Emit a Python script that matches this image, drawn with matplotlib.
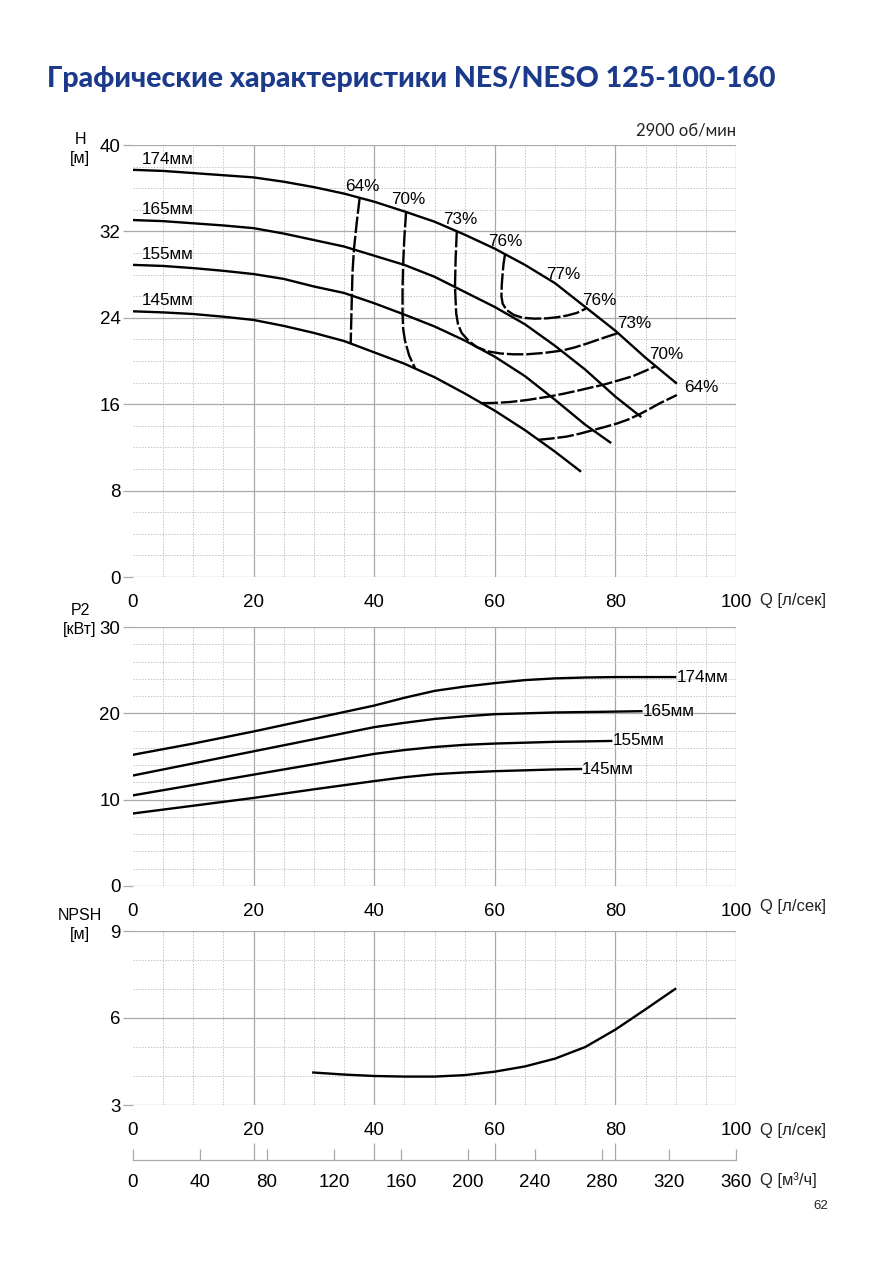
import matplotlib
matplotlib.use('Agg')
import matplotlib.pyplot as plt
import numpy as np

plt.rcParams['font.family'] = ['Liberation Sans', 'DejaVu Sans']

# ---------------- DATA ----------------
diam_labels = ['174мм', '165мм', '155мм', '145мм']

# Head curves H(Q), Q in l/s, H in m
q_174 = [0, 5, 10, 15, 20, 25, 30, 35, 40, 45, 50, 55, 60, 65, 70, 75, 80, 85, 90.2]
h_174 = [37.7, 37.6, 37.4, 37.2, 37.0, 36.6, 36.1, 35.5, 34.75, 33.85, 32.9, 31.7, 30.4, 28.9, 27.2, 25.0, 22.8, 20.3, 17.9]
q_165 = [0, 5, 10, 15, 20, 25, 30, 35, 40, 45, 50, 55, 60, 65, 70, 75, 80, 84.3]
h_165 = [33.05, 32.95, 32.75, 32.55, 32.3, 31.8, 31.2, 30.6, 29.75, 28.9, 27.8, 26.4, 25.0, 23.4, 21.4, 19.2, 16.7, 14.8]
q_155 = [0, 5, 10, 15, 20, 25, 30, 35, 40, 45, 50, 55, 60, 65, 70, 75, 79.3]
h_155 = [28.9, 28.8, 28.6, 28.35, 28.05, 27.6, 26.9, 26.3, 25.35, 24.3, 23.2, 21.9, 20.4, 18.6, 16.4, 14.1, 12.4]
q_145 = [0, 5, 10, 15, 20, 25, 30, 35, 40, 45, 50, 55, 60, 65, 70, 74.3]
h_145 = [24.6, 24.5, 24.35, 24.1, 23.8, 23.25, 22.6, 21.85, 20.8, 19.75, 18.5, 17.0, 15.4, 13.6, 11.6, 9.75]

# Efficiency iso-lines (Q, H)
eff64_left_q = [37.6, 37.1, 36.65, 36.4, 36.3, 36.2, 36.1]
eff64_left_h = [35.15, 32.8, 30.4, 28.2, 26.1, 23.8, 21.6]
eff70_left_q = [45.3, 45.0, 44.8, 44.7, 44.7, 44.8, 45.1, 45.8, 46.8]
eff70_left_h = [33.9, 31.4, 29.0, 26.7, 24.4, 23.0, 21.9, 20.5, 19.3]
eff73_q = [53.7, 53.5, 53.4, 53.5, 53.6, 53.9, 54.5, 55.6, 57.0, 58.8, 60.9, 63.0, 65.3, 68.2, 71.1, 73.2, 75.2, 77.8, 80.5]
eff73_h = [32.05, 29.4, 26.9, 25.6, 24.4, 23.4, 22.6, 21.9, 21.3, 20.9, 20.7, 20.62, 20.62, 20.75, 20.96, 21.25, 21.6, 22.1, 22.6]
eff76_q = [61.7, 61.45, 61.3, 61.15, 61.1, 61.3, 62.0, 63.2, 64.7, 66.6, 68.6, 70.3, 71.9, 73.6, 75.1]
eff76_h = [29.9, 29.0, 28.1, 27.0, 26.0, 25.3, 24.7, 24.25, 24.0, 23.92, 23.95, 24.05, 24.2, 24.45, 24.85]
eff70_right_q = [57.8, 60.0, 62.5, 65.5, 68.9, 71.5, 74.1, 76.0, 78.0, 80.5, 82.9, 84.8, 86.6]
eff70_right_h = [16.1, 16.12, 16.2, 16.4, 16.7, 16.98, 17.3, 17.55, 17.8, 18.2, 18.6, 19.05, 19.5]
eff64_right_q = [67.2, 69.5, 71.9, 74.1, 76.3, 78.3, 80.2, 82.2, 84.1, 85.8, 87.4, 88.9, 90.2]
eff64_right_h = [12.7, 12.83, 13.0, 13.27, 13.6, 13.9, 14.2, 14.6, 15.1, 15.6, 16.1, 16.5, 16.85]

eff_label_text = ['64%', '70%', '73%', '76%', '77%', '76%', '73%', '70%', '64%']
eff_label_q = [38.0, 45.6, 54.2, 61.7, 71.3, 77.4, 83.1, 88.5, 94.3]
eff_label_h = [36.2, 35.0, 33.1, 31.1, 28.0, 25.6, 23.5, 20.6, 17.5]

# Power curves P2(Q), kW
qp_174 = [0, 10, 20, 30, 40, 45, 50, 55, 60, 65, 70, 75, 80, 85, 89.9]
p_174 = [15.2, 16.5, 17.9, 19.4, 20.9, 21.8, 22.6, 23.1, 23.5, 23.85, 24.05, 24.15, 24.2, 24.2, 24.2]
qp_165 = [0, 10, 20, 30, 40, 45, 50, 55, 60, 65, 70, 75, 80, 84.3]
p_165 = [12.8, 14.2, 15.6, 17.0, 18.4, 18.9, 19.35, 19.65, 19.9, 20.0, 20.1, 20.15, 20.2, 20.25]
qp_155 = [0, 10, 20, 30, 40, 45, 50, 55, 60, 65, 70, 75, 79.3]
p_155 = [10.5, 11.7, 12.9, 14.1, 15.3, 15.75, 16.1, 16.35, 16.5, 16.6, 16.7, 16.75, 16.8]
qp_145 = [0, 10, 20, 30, 40, 45, 50, 55, 60, 65, 70, 74.3]
p_145 = [8.4, 9.3, 10.2, 11.2, 12.15, 12.6, 12.95, 13.15, 13.3, 13.4, 13.5, 13.55]

# NPSH curve
q_npsh = [29.9, 35, 40, 45, 50, 55, 60, 65, 70, 75, 80, 85, 89.9]
npsh = [4.12, 4.05, 4.0, 3.98, 3.98, 4.03, 4.15, 4.33, 4.6, 5.0, 5.6, 6.3, 7.0]

q_ticks = [0, 20, 40, 60, 80, 100]
h_ticks = [0, 8, 16, 24, 32, 40]
p_ticks = [0, 10, 20, 30]
n_ticks = [3, 6, 9]
m3h_ticks = [0, 40, 80, 120, 160, 200, 240, 280, 320, 360]

# ---------------- STYLE ----------------
W, H = 893, 1263
fig = plt.figure(figsize=(W / 100, H / 100), dpi=100)

def fx(px):
    return px / W

def fy(py):
    return 1 - py / H

MAJ = '#a9a9a9'
MIN = '#c4c4c4'
LW_CURVE = 1.7
DASH = (0, (7, 1.2))
TICK_FS = 13.5
LBL_FS = 12.3
QLBL_FS = 12


def make_axes(top, bottom, ylim, ymaj, ymin_step):
    ax = fig.add_axes([fx(133), fy(bottom), fx(736) - fx(133), fy(top) - fy(bottom)])
    ax.set_xlim(0, 100)
    ax.set_ylim(*ylim)
    for s in ax.spines.values():
        s.set_visible(False)
    for v in np.arange(5, 100.1, 5):
        if v % 20 == 0:
            ax.axvline(v, color=MAJ, lw=0.9, zorder=1)
        else:
            ax.axvline(v, color=MIN, lw=0.7, ls=(0, (1.5, 1.5)), zorder=1)
    for v in np.arange(ylim[0], ylim[1] + 0.01, ymin_step):
        if any(abs(v - t) < 1e-6 for t in ymaj):
            ax.axhline(v, color=MAJ, lw=0.9, zorder=1)
        else:
            ax.axhline(v, color=MIN, lw=0.7, ls=(0, (1.5, 1.5)), zorder=1)
    ax.set_xticks(q_ticks)
    ax.set_yticks(ymaj)
    ax.tick_params(axis='x', length=0, pad=12, labelsize=TICK_FS)
    ax.tick_params(axis='y', length=7, width=0.9, color=MAJ, pad=2, labelsize=TICK_FS)
    return ax

# ---- Title ----
fig.text(fx(47), fy(79), 'Графические характеристики NES/NESO 125-100-160',
         fontsize=20.5, fontweight='black', color='#1c3a8c',
         family=['Lato', 'DejaVu Sans'], ha='left', va='center')
fig.text(fx(736), fy(131), '2900 об/мин', fontsize=12, family=['Lato', 'DejaVu Sans'],
         ha='right', va='center', color='#222222')

# ---- Head chart ----
ax1 = make_axes(145, 577, (0, 40), h_ticks, 2)
for q, h in [(q_174, h_174), (q_165, h_165), (q_155, h_155), (q_145, h_145)]:
    ax1.plot(q, h, color='black', lw=LW_CURVE, zorder=3, solid_capstyle='butt')
for q, h in [(eff64_left_q, eff64_left_h), (eff70_left_q, eff70_left_h), (eff73_q, eff73_h),
             (eff76_q, eff76_h), (eff70_right_q, eff70_right_h), (eff64_right_q, eff64_right_h)]:
    ax1.plot(q, h, color='black', lw=LW_CURVE, ls=DASH, zorder=3)
for lbl, h0 in zip(diam_labels, [h_174[0], h_165[0], h_155[0], h_145[0]]):
    ax1.text(1.5, h0 + 0.3, lbl, fontsize=LBL_FS, ha='left', va='bottom', zorder=4)
for t, q, h in zip(eff_label_text, eff_label_q, eff_label_h):
    ax1.text(q, h, t, fontsize=LBL_FS, ha='center', va='center', zorder=4)

# ---- Power chart ----
ax2 = make_axes(627, 886, (0, 30), p_ticks, 2)
for lbl, q, p in [('174мм', qp_174, p_174), ('165мм', qp_165, p_165),
                  ('155мм', qp_155, p_155), ('145мм', qp_145, p_145)]:
    ax2.plot(q, p, color='black', lw=LW_CURVE, zorder=3)
    ax2.text(q[-1] + 0.2, p[-1], lbl, fontsize=LBL_FS, ha='left', va='center', zorder=4)

# ---- NPSH chart ----
ax3 = make_axes(931, 1105, (3, 9), n_ticks, 1)
ax3.plot(q_npsh, npsh, color='black', lw=LW_CURVE, zorder=3)

# Q labels next to "100"
for ybase in [600, 906, 1130]:
    fig.text(fx(760), fy(ybase), 'Q [л/сек]', fontsize=QLBL_FS, ha='left', va='center', color='#222222')

# axis name labels
fig.text(fx(80), fy(149), 'H\n[м]', fontsize=11.5, ha='center', va='center', linespacing=1.35)
fig.text(fx(80), fy(620), 'P2\n[кВт]', fontsize=11.5, ha='center', va='center', linespacing=1.35)
fig.text(fx(80), fy(925), 'NPSH\n[м]', fontsize=11.5, ha='center', va='center', linespacing=1.35)

# ---- m3/h axis ----
ax4 = fig.add_axes([fx(133), fy(1160), fx(736) - fx(133), fy(1146) - fy(1160)])
ax4.set_xlim(0, 360)
ax4.set_ylim(0, 1)
for k in ['top', 'left', 'right']:
    ax4.spines[k].set_visible(False)
ax4.spines['bottom'].set_color(MAJ)
ax4.spines['bottom'].set_linewidth(0.9)
ax4.patch.set_alpha(0)
ax4.set_yticks([])
ax4.set_xticks(m3h_ticks)
ax4.set_xticks([72, 144, 216, 288], minor=True)
ax4.tick_params(axis='x', which='major', direction='in', length=8, width=0.9, color=MAJ,
                pad=10, labelsize=TICK_FS)
ax4.tick_params(axis='x', which='minor', direction='in', length=12, width=0.9, color=MAJ)
fig.text(fx(760), fy(1180), 'Q [м³/ч]', fontsize=QLBL_FS, ha='left', va='center', color='#222222')

fig.text(fx(828), fy(1206), '62', fontsize=9.5, ha='right', va='center', color='#222222')

fig.savefig('out.png', dpi=100, facecolor='white')
